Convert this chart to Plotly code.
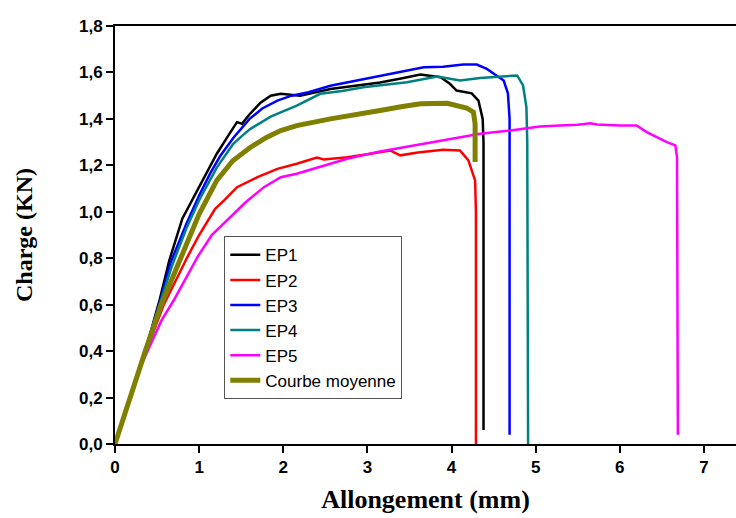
import plotly.graph_objects as go

# ---- data ----
ep1_x = [0, 0.15, 0.36, 0.53, 0.645, 0.80, 1.015, 1.21, 1.35, 1.45, 1.51, 1.60, 1.73, 1.85, 1.97, 2.2, 2.56, 2.85, 3.15, 3.40, 3.63, 3.87, 3.98, 4.06, 4.15, 4.24, 4.32, 4.37, 4.38, 4.38]
ep1_y = [0, 0.17, 0.40, 0.62, 0.79, 0.97, 1.12, 1.25, 1.33, 1.386, 1.379, 1.42, 1.47, 1.50, 1.508, 1.50, 1.529, 1.543, 1.557, 1.574, 1.591, 1.579, 1.551, 1.522, 1.515, 1.51, 1.479, 1.40, 1.30, 0.06]

ep2_x = [0, 0.15, 0.36, 0.58, 0.86, 1.0, 1.12, 1.19, 1.30, 1.45, 1.70, 1.93, 2.16, 2.40, 2.48, 2.76, 3.0, 3.27, 3.39, 3.60, 3.90, 4.10, 4.20, 4.28, 4.29, 4.29]
ep2_y = [0, 0.16, 0.39, 0.60, 0.805, 0.90, 0.97, 1.013, 1.05, 1.106, 1.15, 1.185, 1.207, 1.233, 1.225, 1.235, 1.248, 1.264, 1.243, 1.255, 1.267, 1.264, 1.221, 1.135, 1.0, 0.0]

ep3_x = [0, 0.15, 0.36, 0.54, 0.66, 0.85, 1.0, 1.13, 1.25, 1.41, 1.60, 1.75, 1.93, 2.1, 2.3, 2.56, 2.85, 3.15, 3.40, 3.67, 3.90, 4.14, 4.30, 4.42, 4.52, 4.62, 4.67, 4.69, 4.69]
ep3_y = [0, 0.17, 0.40, 0.62, 0.78, 0.95, 1.07, 1.164, 1.24, 1.32, 1.40, 1.445, 1.479, 1.50, 1.515, 1.543, 1.563, 1.586, 1.603, 1.622, 1.625, 1.634, 1.634, 1.615, 1.59, 1.565, 1.51, 1.40, 0.04]

ep4_x = [0, 0.15, 0.36, 0.54, 0.68, 0.85, 1.0, 1.21, 1.40, 1.52, 1.61, 1.85, 2.16, 2.44, 2.70, 2.95, 3.20, 3.47, 3.83, 4.10, 4.34, 4.55, 4.78, 4.85, 4.89, 4.90, 4.91]
ep4_y = [0, 0.17, 0.40, 0.61, 0.77, 0.93, 1.05, 1.19, 1.29, 1.33, 1.357, 1.41, 1.457, 1.508, 1.52, 1.536, 1.547, 1.558, 1.582, 1.565, 1.576, 1.58, 1.587, 1.544, 1.45, 1.30, 0.0]

ep5_x = [0, 0.15, 0.30, 0.45, 0.55, 0.70, 0.85, 0.98, 1.15, 1.37, 1.55, 1.77, 1.97, 2.16, 2.40, 2.76, 3.15, 3.55, 3.95, 4.34, 4.70, 5.05, 5.29, 5.50, 5.65, 5.73, 6.0, 6.20, 6.32, 6.45, 6.56, 6.66, 6.68, 6.69]
ep5_y = [0, 0.17, 0.33, 0.45, 0.53, 0.62, 0.72, 0.805, 0.90, 0.977, 1.04, 1.106, 1.149, 1.164, 1.19, 1.228, 1.26, 1.285, 1.31, 1.336, 1.35, 1.367, 1.372, 1.375, 1.381, 1.376, 1.372, 1.372, 1.343, 1.32, 1.30, 1.286, 1.234, 0.04]

moy_x = [0, 0.15, 0.36, 0.55, 0.78, 1.0, 1.21, 1.40, 1.61, 1.80, 1.97, 2.16, 2.56, 2.85, 3.15, 3.40, 3.63, 3.95, 4.18, 4.26, 4.28, 4.28]
moy_y = [0, 0.17, 0.40, 0.60, 0.805, 0.99, 1.135, 1.22, 1.278, 1.32, 1.35, 1.371, 1.40, 1.42, 1.436, 1.452, 1.465, 1.467, 1.447, 1.429, 1.38, 1.214]

series = [
    ("EP1", ep1_x, ep1_y, "#000000", 2.5),
    ("EP2", ep2_x, ep2_y, "#ff0000", 2.5),
    ("EP3", ep3_x, ep3_y, "#0000ff", 2.5),
    ("EP4", ep4_x, ep4_y, "#008080", 2.5),
    ("EP5", ep5_x, ep5_y, "#ff00ff", 2.5),
    ("Courbe moyenne", moy_x, moy_y, "#808000", 5),
]

fig = go.Figure()
for name, xs, ys, col, w in series:
    fig.add_trace(go.Scatter(x=xs, y=ys, mode="lines", name=name,
                             line=dict(color=col, width=w)))

tickfont = dict(family="Arial, Liberation Sans, sans-serif", size=17, color="black", weight="bold")
ytitlefont = dict(family="Times New Roman, Liberation Serif, serif", size=24, color="black", weight="bold")
xtitlefont = dict(family="Times New Roman, Liberation Serif, serif", size=26, color="black", weight="bold")

fig.update_layout(
    width=736, height=518,
    margin=dict(l=114.5, r=0, t=25.7, b=74),
    paper_bgcolor="white", plot_bgcolor="white",
    separators=", ",
    showlegend=True,
    legend=dict(x=0.176, y=0.497, xanchor="left", yanchor="top",
                bgcolor="white", bordercolor="#555555", borderwidth=1,
                font=dict(family="Arial, Liberation Sans, sans-serif", size=17, color="black"),
                tracegroupgap=0),
    xaxis=dict(range=[0, 7.381], dtick=1, tick0=0, tickformat="d",
               showgrid=False, zeroline=False,
               showline=True, linecolor="black", linewidth=2, mirror=True,
               ticks="outside", ticklen=7, tickwidth=1.5, tickcolor="black",
               tickfont=tickfont,
               title=dict(text="Allongement (mm)", font=xtitlefont, standoff=13)),
    yaxis=dict(range=[0, 1.8], dtick=0.2, tick0=0, tickformat=".1f",
               showgrid=False, zeroline=False,
               showline=True, linecolor="black", linewidth=2,
               ticks="outside", ticklen=7, tickwidth=1.5, tickcolor="black",
               tickfont=tickfont,
               title=dict(text="Charge (KN)", font=ytitlefont, standoff=40)),
)

fig.write_html("out.html", config={"displayModeBar": False},
               post_script="document.body.style.margin='0';document.body.style.overflow='hidden';")
